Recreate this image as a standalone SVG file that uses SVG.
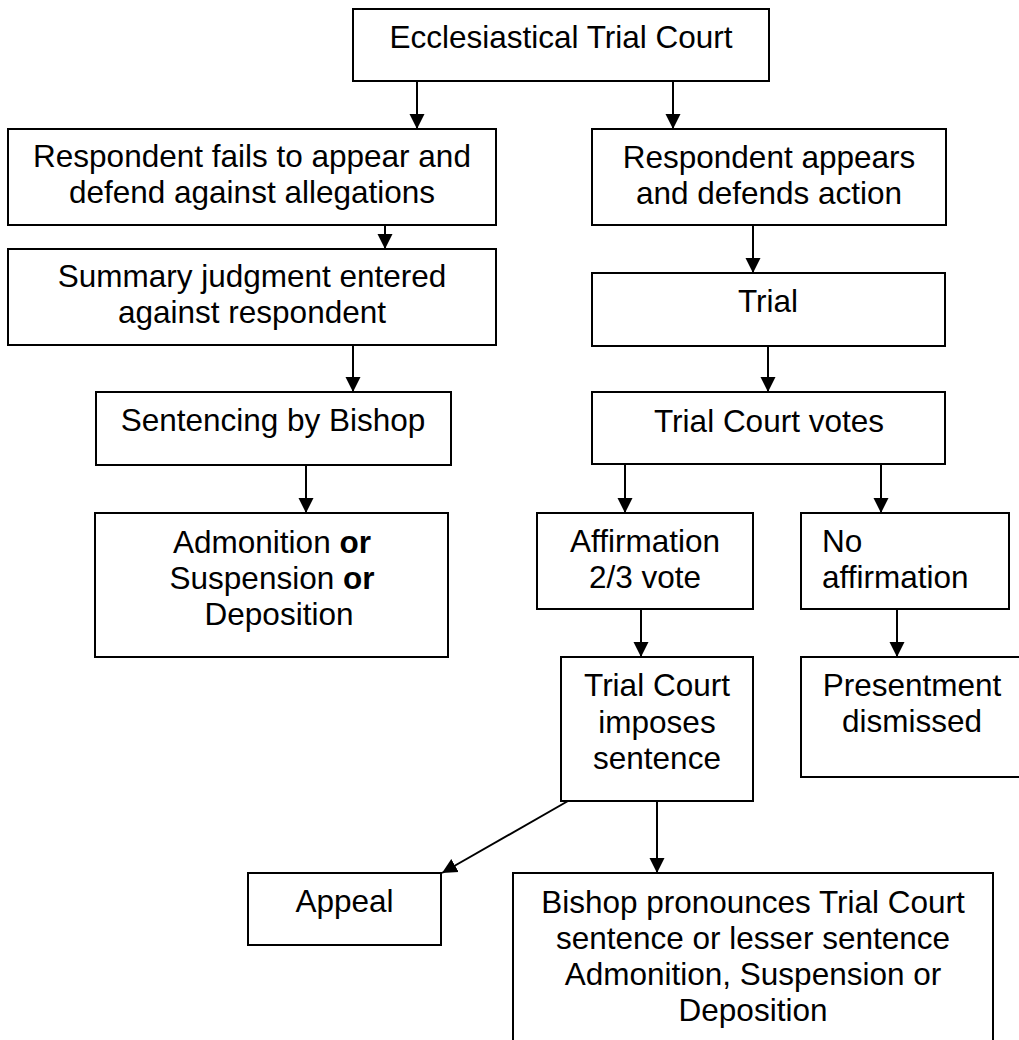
<svg xmlns="http://www.w3.org/2000/svg" width="1019" height="1040" viewBox="0 0 1019 1040">
<style>
.box{fill:#fff;stroke:#000;stroke-width:2}
.t{font-family:"Liberation Sans",Arial,sans-serif;font-size:31.5px;fill:#000;text-anchor:middle}
.l{text-anchor:start}
.c{stroke:#000;stroke-width:2;fill:none;marker-end:url(#ah)}
</style>
<defs>
<marker id="ah" markerUnits="userSpaceOnUse" markerWidth="16" markerHeight="16" viewBox="0 0 16 16" refX="15" refY="8" orient="auto">
<path d="M0,0.5 L15,8 L0,15.5 z" fill="#000"/>
</marker>
</defs>
<rect width="1019" height="1040" fill="#fff"/>
<g id="connectors">
<line class="c" x1="417" y1="81" x2="417" y2="129"/>
<line class="c" x1="673" y1="81" x2="673" y2="129"/>
<line class="c" x1="385" y1="225" x2="385" y2="249"/>
<line class="c" x1="353" y1="345" x2="353" y2="392"/>
<line class="c" x1="306" y1="465" x2="306" y2="513"/>
<line class="c" x1="753" y1="225" x2="753" y2="273"/>
<line class="c" x1="768" y1="346" x2="768" y2="392"/>
<line class="c" x1="625" y1="464" x2="625" y2="513"/>
<line class="c" x1="881" y1="464" x2="881" y2="513"/>
<line class="c" x1="641" y1="609" x2="641" y2="657"/>
<line class="c" x1="897" y1="609" x2="897" y2="657"/>
<line class="c" x1="568" y1="801" x2="442" y2="873"/>
<line class="c" x1="657" y1="801" x2="657" y2="873"/>
</g>
<g id="n-ecclesiastical">
<rect class="box" x="353" y="9" width="416" height="72"/>
<text class="t" x="561" y="48">Ecclesiastical Trial Court</text>
</g>
<g id="n-fails">
<rect class="box" x="8" y="129" width="488" height="96"/>
<text class="t" x="252" y="167">Respondent fails to appear and</text>
<text class="t" x="252" y="203">defend against allegations</text>
</g>
<g id="n-summary">
<rect class="box" x="8" y="249" width="488" height="96"/>
<text class="t" x="252" y="287">Summary judgment entered</text>
<text class="t" x="252" y="323">against respondent</text>
</g>
<g id="n-sentencing">
<rect class="box" x="96" y="392" width="355" height="73"/>
<text class="t" x="273" y="431">Sentencing by Bishop</text>
</g>
<g id="n-admonition">
<rect class="box" x="95" y="513" width="353" height="144"/>
<text class="t" x="272" y="553">Admonition <tspan font-weight="bold">or</tspan></text>
<text class="t" x="272" y="589">Suspension <tspan font-weight="bold">or</tspan></text>
<text class="t" x="279" y="625">Deposition</text>
</g>
<g id="n-appears">
<rect class="box" x="592" y="129" width="354" height="96"/>
<text class="t" x="769" y="168">Respondent appears</text>
<text class="t" x="769" y="204">and defends action</text>
</g>
<g id="n-trial">
<rect class="box" x="592" y="273" width="353" height="73"/>
<text class="t" x="768" y="312">Trial</text>
</g>
<g id="n-votes">
<rect class="box" x="592" y="392" width="353" height="72"/>
<text class="t" x="769" y="432">Trial Court votes</text>
</g>
<g id="n-affirmation">
<rect class="box" x="537" y="513" width="216" height="96"/>
<text class="t" x="645" y="552">Affirmation</text>
<text class="t" x="645" y="588">2/3 vote</text>
</g>
<g id="n-noaffirmation">
<rect class="box" x="801" y="513" width="208" height="96"/>
<text class="t l" x="822" y="552">No</text>
<text class="t l" x="822" y="588">affirmation</text>
</g>
<g id="n-imposes">
<rect class="box" x="561" y="657" width="192" height="144"/>
<text class="t" x="657" y="696">Trial Court</text>
<text class="t" x="657" y="733">imposes</text>
<text class="t" x="657" y="769">sentence</text>
</g>
<g id="n-dismissed">
<rect class="box" x="801" y="657" width="230" height="120"/>
<text class="t" x="912" y="696">Presentment</text>
<text class="t" x="912" y="732">dismissed</text>
</g>
<g id="n-appeal">
<rect class="box" x="248" y="873" width="193" height="72"/>
<text class="t" x="344.5" y="912">Appeal</text>
</g>
<g id="n-bishop">
<rect class="box" x="513" y="873" width="480" height="190"/>
<text class="t" x="753" y="913">Bishop pronounces Trial Court</text>
<text class="t" x="753" y="949">sentence or lesser sentence</text>
<text class="t" x="753" y="985">Admonition, Suspension or</text>
<text class="t" x="753" y="1021">Deposition</text>
</g>
</svg>
